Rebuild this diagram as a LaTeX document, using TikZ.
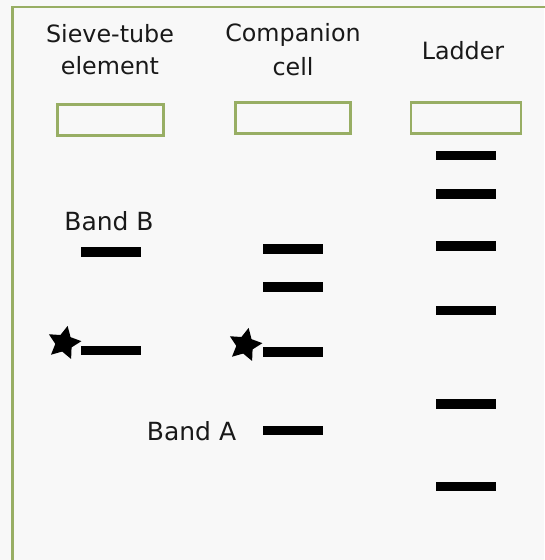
\documentclass[tikz,border=0pt]{standalone}
\usepackage{fontspec}
\setmainfont{DejaVu Sans}
\usetikzlibrary{shapes.geometric}
\definecolor{frameg}{RGB}{152,174,100}
\definecolor{bgc}{RGB}{248,248,248}
\definecolor{txt}{RGB}{25,25,25}
\tikzset{
  lane/.style={draw=frameg, line width=2.8pt, fill=none, minimum height=31pt, inner sep=0pt},
  band/.style={fill=black, minimum width=60pt, minimum height=9.5pt, inner sep=0pt},
  head/.style={anchor=base, text=txt, font=\fontsize{23.8}{28}\selectfont, inner sep=0pt},
  lab/.style={anchor=base, text=txt, font=\fontsize{25}{30}\selectfont, inner sep=0pt},
  mark star/.style={star, star points=5, star point ratio=2.0, fill=black, minimum size=35pt, inner sep=0pt, rotate=-12},
}
\begin{document}
\begin{tikzpicture}[x=1pt,y=-1pt]
\fill[bgc] (0,0) rectangle (544,560);
\useasboundingbox (0,0) rectangle (544,560);
\draw[frameg, line width=2.6pt] (12.3,570) -- (12.3,7) -- (560,7);
% headers
\node[head] (h1a) at (110,42) {Sieve-tube};
\node[head] (h1b) at (110,74.5) {element};
\node[head] (h2a) at (293,41.5) {Companion};
\node[head] (h2b) at (293,75) {cell};
\node[head] (h3) at (463,59.5) {Ladder};
% wells
\node[lane, minimum width=106pt] (w1) at (110.5,120) {};
\node[lane, minimum width=115pt] (w2) at (293,118) {};
\node[lane, minimum width=110pt] (w3) at (466,117.7) {};
% ladder
\node[band] (l1) at (466,155.5) {};
\node[band] (l2) at (466,194) {};
\node[band] (l3) at (466,246) {};
\node[band] (l4) at (466,310.5) {};
\node[band] (l5) at (466,404) {};
\node[band] (l6) at (466,486.5) {};
% companion
\node[band] (c1) at (292.7,249) {};
\node[band] (c2) at (292.7,287) {};
\node[band] (c3) at (292.7,352) {};
\node[band] (c4) at (292.7,430.7) {};
% sieve
\node[band, minimum width=59.5pt] (s1) at (110.8,252) {};
\node[band, minimum width=59.5pt] (s2) at (110.8,350.7) {};
% stars
\node[mark star] (st1) at (64,343) {};
\node[mark star] (st2) at (245,345) {};
% labels
\node[lab] (bB) at (109,230) {Band B};
\node[lab] (bA) at (191.5,440) {Band A};
\end{tikzpicture}
\end{document}
